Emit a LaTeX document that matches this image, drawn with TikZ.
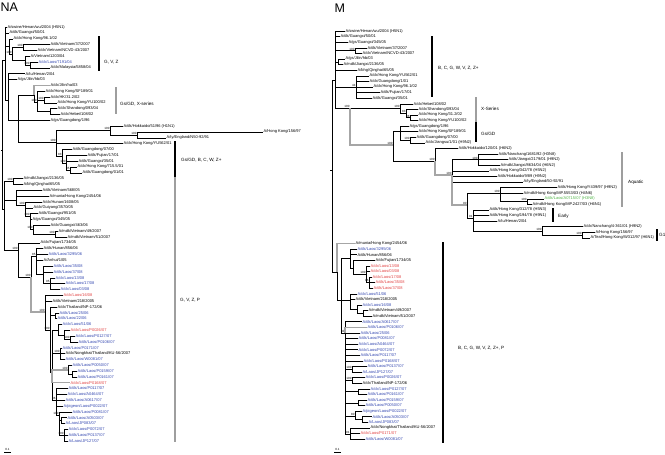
\documentclass[tikz,border=0pt]{standalone}
\usepackage{fontspec}
\setmainfont{Liberation Sans}

\definecolor{laoblue}{RGB}{50,70,175}
\definecolor{laored}{RGB}{225,65,65}
\definecolor{aqgreen}{RGB}{80,180,70}

\tikzset{
  lf/.style={anchor=west, inner sep=0.5pt, font=\fontsize{4}{4}\selectfont},
  lb/.style={lf, text=laoblue},
  lr/.style={lf, text=laored},
  lg/.style={lf, text=aqgreen},
  bs/.style={inner sep=0.3pt, font=\fontsize{3}{3}\selectfont},
  br/.style={line width=0.35pt},
  hl/.style={line width=1.2pt, black!35},
  barb/.style={line width=1.7pt},
  barg/.style={line width=1.7pt, black!38},
  grp/.style={anchor=west, inner sep=0pt, font=\fontsize{4.6}{4.6}\selectfont},
  ttl/.style={anchor=north west, inner sep=0pt, font=\fontsize{12.5}{12.5}\selectfont},
}

\begin{document}
\begin{tikzpicture}[x=1pt,y=-1pt]
\useasboundingbox (0,0) rectangle (665,455);

% ---------------- NA ----------------
\node[ttl] (tna) at (0.5,3) {NA};

% leaves
\node[lf] (a1) at (7,27.0) {A/swine/Henan/wu/2004 (H5N1)};
\node[lf] (a2) at (9,32.8) {A/dk/Guangxi/50/01};
\node[lf] (a3) at (13,38.7) {A/ck/Hong Kong/96.1/02};
\node[lf] (a4) at (50,44.5) {A/dk/Vietnam/37/2007};
\node[lf] (a5) at (37,50.3) {A/ck/Vietnam/NCVD-43/2007};
\node[lf] (a6) at (30,56.2) {A/Vietnam/1203/04};
\node[lb] (a7) at (38,62.0) {A/ck/Laos/7191/04};
\node[lf] (a8) at (50,67.8) {A/ck/Malaysia/5858/04};
\node[lf] (a9) at (25,73.6) {A/tu/Henan/2/04};
\node[lf] (a10) at (17,79.5) {A/gs/Jilin/hb/03};
\node[lf] (a11) at (50,85.3) {A/ck/Jilin/ha/03};
\node[lf] (a12) at (45,91.1) {A/ck/Hong Kong/SF189/01};
\node[lf] (a13) at (50,97.0) {A/ck/HK/31.2/02};
\node[lf] (a14) at (57,102.8) {A/ck/Hong Kong/YU100/02};
\node[lf] (a15) at (57,108.6) {A/ck/Shandong/093/04};
\node[lf] (a16) at (60,114.5) {A/ck/Hebei/108/02};
\node[lf] (a17) at (50,120.3) {A/gs/Guangdong/1/96};
\node[lf] (a18) at (123,126.1) {A/dk/Hokkaido/51/96 (H1N1)};
\node[lf] (a19) at (263,131.9) {A/Hong Kong/156/97};
\node[lf] (a20) at (166,137.8) {A/ty/England/N50-92/91};
\node[lf] (a21) at (123,143.6) {A/ck/Hong Kong/YU562/01};
\node[lf] (a22) at (72,149.4) {A/dk/Guangdong/07/00};
\node[lf] (a23) at (87,155.3) {A/dk/Fujian/17/01};
\node[lf] (a24) at (78,161.1) {A/dk/Guangxi/35/01};
\node[lf] (a25) at (77,166.9) {A/ck/Hong Kong/715.5/01};
\node[lf] (a26) at (82,172.8) {A/dk/Guangdong/01/01};
\node[lf] (a27) at (23,178.6) {A/mdk/Jiangxi/2136/05};
\node[lf] (a28) at (23,184.4) {A/bhg/Qinghai/65/05};
\node[lf] (a29) at (42,190.2) {A/dk/Vietnam/568/05};
\node[lf] (a30) at (49,196.1) {A/munia/Hong Kong/2454/06};
\node[lf] (a31) at (42,201.9) {A/ck/Hunan/1608/05};
\node[lf] (a32) at (33,207.7) {A/ck/Guiyang/3570/05};
\node[lf] (a33) at (38,213.6) {A/dk/Guangxi/951/05};
\node[lf] (a34) at (32,219.4) {A/gs/Guangxi/345/05};
\node[lf] (a35) at (50,225.2) {A/ck/Guangxi/463/06};
\node[lf] (a36) at (58,231.1) {A/mdk/Vietnam/49/2007};
\node[lf] (a37) at (67,236.9) {A/mdk/Vietnam/51/2007};
\node[lf] (a38) at (40,242.7) {A/ck/Fujian/1734/05};
\node[lf] (a39) at (43,248.5) {A/dk/Hunan/856/06};
\node[lb] (a40) at (48,254.4) {A/dk/Laos/3295/06};
\node[lf] (a41) at (43,260.2) {A/Anhui/1/05};
\node[lb] (a42) at (53,266.0) {A/dk/Laos/35/08};
\node[lb] (a43) at (53,271.9) {A/dk/Laos/37/08};
\node[lb] (a44) at (55,277.7) {A/ck/Laos/13/08};
\node[lb] (a45) at (65,283.5) {A/ck/Laos/17/08};
\node[lb] (a46) at (60,289.4) {A/ck/Laos/03/08};
\node[lr] (a47) at (63,295.2) {A/ck/Laos/16/08};
\node[lf] (a48) at (52,301.0) {A/dk/Vietnam/218/2005};
\node[lf] (a49) at (57,306.8) {A/ck/Thailand/NP-172/06};
\node[lb] (a50) at (59,312.7) {A/dk/Laos/25/06};
\node[lb] (a51) at (57,318.5) {A/dk/Laos/22/06};
\node[lb] (a52) at (62,324.3) {A/ck/Laos/51/06};
\node[lr] (a53) at (70,330.2) {A/ck/Laos/P0026/07};
\node[lb] (a54) at (75,336.0) {A/ck/Laos/P0127/07};
\node[lb] (a55) at (78,341.8) {A/dk/Laos/P0106/07};
\node[lb] (a56) at (62,347.7) {A/dk/Laos/P0171/07};
\node[lf] (a57) at (65,353.5) {A/ck/Nongkhai/Thailand/KU-56/2007};
\node[lb] (a58) at (65,359.3) {A/dk/Laos/W0081/07};
\node[lb] (a59) at (72,365.1) {A/dk/Laos/P0050/07};
\node[lb] (a60) at (77,371.0) {A/dk/Laos/P0159/07};
\node[lb] (a61) at (77,376.8) {A/dk/Laos/P0161/07};
\node[lr] (a62) at (70,382.6) {A/ck/Laos/P0168/07};
\node[lb] (a63) at (68,388.5) {A/dk/Laos/P0117/07};
\node[lb] (a64) at (67,394.3) {A/ck/Laos/A0464/07};
\node[lb] (a65) at (65,400.1) {A/dk/Laos/A0617/07};
\node[lb] (a66) at (63,406.0) {A/pigeon/Laos/P0022/07};
\node[lb] (a67) at (72,411.8) {A/dk/Laos/P0081/07};
\node[lb] (a68) at (67,417.6) {A/dk/Laos/A0503/07};
\node[lb] (a69) at (65,423.4) {A/Laos/JP083/07};
\node[lb] (a70) at (68,429.3) {A/ck/Laos/P0072/07};
\node[lb] (a71) at (68,435.1) {A/dk/Laos/P0137/07};
\node[lb] (a72) at (68,440.9) {A/Laos/JP127/07};

% internal nodes
\coordinate (r) at (2,150);
\coordinate (u0) at (5,60);
\coordinate (u0b) at (9,46);
\coordinate[label={[bs]above left:100}] (u1) at (12,54);
\coordinate[label={[bs]above left:100}] (u1a) at (23,47.4);
\coordinate (u1b) at (25,60);
\coordinate[label={[bs]above left:100}] (u1c) at (30,65);
\coordinate (u2) at (8,100);
\coordinate (u3) at (18,120);
\coordinate (u4) at (34,95);
\coordinate[label={[bs]above left:100}] (u4b) at (37,102);
\coordinate[label={[bs]above left:100}] (u4c) at (44,100);
\coordinate (u4d) at (50,111.5);
\coordinate[label={[bs]above left:100}] (n5) at (56,142);
\coordinate[label={[bs]above left:100}] (n6) at (110,130);
\coordinate[label={[bs]above left:100}] (n6b) at (137,134.8);
\coordinate[label={[bs]above left:83}] (n7) at (62,156);
\coordinate[label={[bs]above left:100}] (n8) at (66,163);
\coordinate[label={[bs]above left:95}] (n9) at (70,169.8);
\coordinate (d0) at (4,209);
\coordinate[label={[bs]above left:100}] (d1) at (13,181.5);
\coordinate (d2) at (16,200);
\coordinate[label={[bs]above left:100}] (d2a) at (25,205);
\coordinate[label={[bs]above left:100}] (d2b) at (30,216.5);
\coordinate[label={[bs]above left:100}] (d2c) at (33,229);
\coordinate[label={[bs]above left:100}] (d2d) at (55,234);
\coordinate[label={[bs]above left:100}] (d3) at (18,250);
\coordinate[label={[bs]above left:100}] (d4) at (31,277);
\coordinate[label={[bs]above left:85}] (d5) at (36,256);
\coordinate (d5a) at (43,274);
\coordinate[label={[bs]above left:95}] (d5b) at (50,283.5);
\coordinate[label={[bs]above left:100}] (d6) at (45,312);
\coordinate[label={[bs]above left:100}] (d7) at (50,330);
\coordinate (d7a) at (55,315.6);
\coordinate (d8) at (52,372);
\coordinate (d9) at (58,330);
\coordinate (d9a) at (64,335);
\coordinate[label={[bs]above left:100}] (d9b) at (70,339);
\coordinate[label={[bs]above left:100}] (d10) at (60,353.5);
\coordinate[label={[bs]above left:100}] (d11) at (68,370);
\coordinate (d11a) at (72,373.9);
\coordinate[label={[bs]above left:96}] (d12) at (56,400);
\coordinate[label={[bs]above left:100}] (d12a) at (59,415);
\coordinate (d12b) at (61,420);
\coordinate[label={[bs]above left:100}] (d12c) at (64,435);

% branches
\draw[br] (r) -- ++(-1.5,0);
\draw[br] (r) |- (u0) (r) |- (d0);
\draw[br] (u0) |- (a1) (u0) |- (a2) (u0) |- (u0b) (u0) |- (u2);
\draw[br] (u0b) |- (a3) (u0b) |- (u1);
\draw[br] (u1) |- (u1a) (u1) |- (u1b);
\draw[br] (u1a) |- (a4) (u1a) |- (a5);
\draw[br] (u1b) |- (a6) (u1b) |- (u1c);
\draw[br] (u1c) |- (a7) (u1c) |- (a8);
\draw[br] (u2) |- (a9) (u2) |- (a10) (u2) |- (u3);
\draw[br] (u3) |- (u4) (u3) |- (a17) (u3) |- (n5);
\draw[br] (u4) |- (u4b);
\draw[br] (u4b) |- (a12) (u4b) |- (u4c) (u4b) |- (u4d);
\draw[br] (u4c) |- (a13) (u4c) |- (a14);
\draw[br] (u4d) |- (a15) (u4d) |- (a16);
\draw[br] (n5) |- (n6) (n5) |- (a21) (n5) |- (n7);
\draw[br] (n6) |- (a18) (n6) |- (n6b);
\draw[br] (n6b) |- (a19) (n6b) |- (a20);
\draw[br] (n7) |- (a22) (n7) |- (n8);
\draw[br] (n8) |- (a23) (n8) |- (a24) (n8) |- (n9);
\draw[br] (n9) |- (a25) (n9) |- (a26);
\draw[br] (d0) |- (d1) (d0) |- (d2) (d0) |- (d3);
\draw[br] (d1) |- (a27) (d1) |- (a28);
\draw[br] (d2) |- (a29) (d2) |- (a30) (d2) |- (d2a);
\draw[br] (d2a) |- (a31) (d2a) |- (a32) (d2a) |- (d2b);
\draw[br] (d2b) |- (a33) (d2b) |- (a34) (d2b) |- (d2c);
\draw[br] (d2c) |- (a35) (d2c) |- (d2d);
\draw[br] (d2d) |- (a36) (d2d) |- (a37);
\draw[br] (d3) |- (a38) (d3) |- (d4);
\draw[br] (d4) |- (d5);
\draw[br] (d5) |- (a39) (d5) |- (a40) (d5) |- (a41) (d5) |- (d5a);
\draw[br] (d5a) |- (a42) (d5a) |- (a43) (d5a) |- (d5b);
\draw[br] (d5b) |- (a44) (d5b) |- (a45) (d5b) |- (a46);
\draw[br] (d6) |- (a47) (d6) |- (a48) (d6) |- (d7);
\draw[br] (d7) |- (a49) (d7) |- (d7a) (d7) |- (d8);
\draw[br] (d7a) |- (a50) (d7a) |- (a51);
\draw[br] (d8) |- (d9) (d8) |- (d10) (d8) |- (d12);
\draw[br] (d9) |- (a52) (d9) |- (d9a);
\draw[br] (d9a) |- (a53) (d9a) |- (d9b);
\draw[br] (d9b) |- (a54) (d9b) |- (a55);
\draw[br] (d10) |- (a56) (d10) |- (a57) (d10) |- (a58);
\draw[br] (d11) |- (a59) (d11) |- (d11a);
\draw[br] (d11a) |- (a60) (d11a) |- (a61);
\draw[br] (d12) |- (a63) (d12) |- (a64) (d12) |- (a65) (d12) |- (a66) (d12) |- (d12a);
\draw[br] (d12a) |- (a67) (d12a) |- (d12b) (d12a) |- (d12c);
\draw[br] (d12b) |- (a68) (d12b) |- (a69);
\draw[br] (d12c) |- (a70) (d12c) |- (a71) (d12c) |- (a72);
\draw[hl] (u4) |- (a11);
\draw[hl] (d4) |- (d6);
\draw[hl] (d8) |- (d11) (d8) |- (a62);

% lineage bars
\draw[barb] (99,36) -- (99,71);
\node[grp] (gvz) at (104,62) {G, V, Z};
\draw[barg] (116,87) -- (116,114);
\node[grp] (gsx) at (120,104) {Gs/GD, X-series};
\draw[barb] (175,141) -- (175,177);
\node[grp] (gsb) at (181,160) {Gs/GD, B, C, W, Z+};
\draw[barg] (175,177) -- (175,442);
\node[grp] (gvzp) at (180,300) {G, V, Z, P};

% scale
\draw[br] (4,452.5) -- (11,452.5);
\node[bs] (sna) at (7.5,449.5) {0.1};

% ---------------- M ----------------
\node[ttl] (tm) at (334.5,4) {M};

% leaves
\node[lf] (m1) at (345,31.0) {A/swine/Henan/wu/2004 (H5N1)};
\node[lf] (m2) at (340,36.6) {A/dk/Guangxi/50/01};
\node[lf] (m3) at (348,42.2) {A/gs/Guangxi/345/05};
\node[lf] (m4) at (367,47.8) {A/dk/Vietnam/37/2007};
\node[lf] (m5) at (362,53.4) {A/ck/Vietnam/NCVD-43/2007};
\node[lf] (m6) at (345,58.9) {A/gs/Jilin/hb/03};
\node[lf] (m7) at (343,64.5) {A/mdk/Jiangxi/2136/05};
\node[lf] (m8) at (357,70.1) {A/bhg/Qinghai/65/05};
\node[lf] (m9) at (369,75.7) {A/ck/Hong Kong/YU562/01};
\node[lf] (m10) at (369,81.3) {A/ck/Guangdong/1/01};
\node[lf] (m11) at (373,86.9) {A/ck/Hong Kong/96.1/02};
\node[lf] (m12) at (380,92.5) {A/dk/Fujian/17/01};
\node[lf] (m13) at (372,98.1) {A/dk/Guangxi/35/01};
\node[lf] (m14) at (413,103.7) {A/ck/Hebei/108/02};
\node[lf] (m15) at (418,109.2) {A/ck/Shandong/093/04};
\node[lf] (m16) at (418,114.8) {A/ck/Hong Kong/31.2/02};
\node[lf] (m17) at (418,120.4) {A/ck/Hong Kong/YU100/02};
\node[lf] (m18) at (409,126.0) {A/gs/Guangdong/1/96};
\node[lf] (m19) at (418,131.6) {A/ck/Hong Kong/SF189/01};
\node[lf] (m20) at (416,137.2) {A/dk/Guangdong/07/00};
\node[lf] (m21) at (425,142.8) {A/ck/Jiangsu/1/01 (H9N2)};
\node[lf] (m22) at (458,148.4) {A/dk/Hokkaido/120/01 (H6N2)};
\node[lf] (m23) at (498,154.0) {A/dk/Nanchang/1681/92 (H3N8)};
\node[lf] (m24) at (508,159.6) {A/dk/Jiangxi/2179/01 (H9N2)};
\node[lf] (m25) at (500,165.1) {A/mdk/Jiangxi/8634/04 (H6N2)};
\node[lf] (m26) at (489,170.7) {A/dk/Hong Kong/342/78 (H5N2)};
\node[lf] (m27) at (497,176.3) {A/dk/Hokkaido/9/89 (H9N2)};
\node[lf] (m28) at (523,181.9) {A/ty/England/50-92/91};
\node[lf] (m29) at (557,187.5) {A/dk/Hong Kong/Y439/97 (H9N2)};
\node[lf] (m30) at (523,193.1) {A/mdk/Hong Kong/MP.5553/03 (H4N6)};
\node[lg] (m31) at (544,198.7) {A/dk/Laos/A0715/07 (H3N8)};
\node[lf] (m32) at (532,204.3) {A/mdk/Hong Kong/MP.2427/03 (H6N1)};
\node[lf] (m33) at (489,209.9) {A/dk/Hong Kong/312/78 (H5N3)};
\node[lf] (m34) at (489,215.4) {A/dk/Hong Kong/194/78 (H9N1)};
\node[lf] (m35) at (497,221.0) {A/tu/Henan/2/04};
\node[lf] (m36) at (583,226.6) {A/ck/Nanchang/4-361/01 (H9N2)};
\node[lf] (m37) at (595,232.2) {A/Hong Kong/156/97};
\node[lf] (m38) at (590,237.8) {A/Teal/Hong Kong/W312/97 (H6N1)};
\node[lf] (m39) at (355,243.4) {A/munia/Hong Kong/2454/06};
\node[lb] (m40) at (357,249.0) {A/dk/Laos/3295/06};
\node[lf] (m41) at (357,254.6) {A/dk/Hunan/856/06};
\node[lf] (m42) at (375,260.2) {A/ck/Fujian/1734/05};
\node[lr] (m43) at (370,265.7) {A/ck/Laos/13/08};
\node[lr] (m44) at (370,271.3) {A/ck/Laos/03/08};
\node[lr] (m45) at (372,276.9) {A/ck/Laos/17/08};
\node[lr] (m46) at (375,282.5) {A/dk/Laos/35/08};
\node[lr] (m47) at (373,288.1) {A/dk/Laos/37/08};
\node[lb] (m48) at (357,293.7) {A/ck/Laos/51/06};
\node[lf] (m49) at (355,299.3) {A/dk/Vietnam/218/2005};
\node[lb] (m50) at (362,304.9) {A/ck/Laos/16/08};
\node[lf] (m51) at (368,310.4) {A/mdk/Vietnam/49/2007};
\node[lf] (m52) at (372,316.0) {A/mdk/Vietnam/51/2007};
\node[lb] (m53) at (362,321.6) {A/dk/Laos/A0617/07};
\node[lb] (m54) at (367,327.2) {A/dk/Laos/P0106/07};
\node[lb] (m55) at (360,332.8) {A/dk/Laos/25/06};
\node[lb] (m56) at (358,338.4) {A/dk/Laos/P0081/07};
\node[lb] (m57) at (358,344.0) {A/ck/Laos/A0464/07};
\node[lb] (m58) at (358,349.6) {A/ck/Laos/P0072/07};
\node[lb] (m59) at (360,355.2) {A/dk/Laos/P0117/07};
\node[lb] (m60) at (363,360.7) {A/ck/Laos/P0168/07};
\node[lb] (m61) at (367,366.3) {A/dk/Laos/P0137/07};
\node[lb] (m62) at (362,371.9) {A/Laos/JP127/07};
\node[lb] (m63) at (365,377.5) {A/ck/Laos/P0026/07};
\node[lf] (m64) at (362,383.1) {A/ck/Thailand/NP-172/06};
\node[lb] (m65) at (370,388.7) {A/ck/Laos/P0127/07};
\node[lb] (m66) at (367,394.3) {A/dk/Laos/P0161/07};
\node[lb] (m67) at (367,399.9) {A/dk/Laos/P0159/07};
\node[lb] (m68) at (365,405.5) {A/dk/Laos/P0050/07};
\node[lb] (m69) at (362,411.0) {A/pigeon/Laos/P0022/07};
\node[lb] (m70) at (372,416.6) {A/dk/Laos/A0503/07};
\node[lb] (m71) at (368,422.2) {A/Laos/JP083/07};
\node[lf] (m72) at (370,427.8) {A/ck/Nongkhai/Thailand/KU-56/2007};
\node[lr] (m73) at (360,433.4) {A/ck/Laos/P0171/07};
\node[lb] (m74) at (365,439.0) {A/dk/Laos/W0081/07};

% internal nodes
\coordinate (mr) at (332,170);
\coordinate (mu) at (335,80);
\coordinate[label={[bs]above left:100}] (ma) at (355,50.6);
\coordinate (mb) at (338,61.7);
\coordinate[label={[bs]above left:44}] (mc) at (356,86.9);
\coordinate[label={[bs]above left:100}] (mg) at (350,108);
\coordinate[label={[bs]above left:100}] (mx) at (400,108);
\coordinate[label={[bs]above left:83}] (mx2) at (406,113);
\coordinate[label={[bs]above left:88}] (mx3) at (410,117.6);
\coordinate[label={[bs]above left:100}] (maq) at (393,145);
\coordinate (mgd) at (400,131);
\coordinate[label={[bs]above left:100}] (mgd3) at (410,140);
\coordinate[label={[bs]above left:100}] (maq2) at (435,161);
\coordinate[label={[bs]above left:100}] (maq3) at (452,175);
\coordinate[label={[bs]above left:100}] (maq4) at (478,159.6);
\coordinate[label={[bs]above left:90}] (maq6) at (467,205);
\coordinate[label={[bs]above left:100}] (maq5) at (500,193);
\coordinate[label={[bs]above left:100}] (maq7) at (527,201.5);
\coordinate[label={[bs]above left:91}] (meg) at (473,218);
\coordinate[label={[bs]above left:100}] (mg1) at (542,231);
\coordinate[label={[bs]above left:100}] (mg1b) at (582,235);
\coordinate (md) at (337,272);
\coordinate (md1) at (341,300);
\coordinate (md2) at (350,258);
\coordinate (md2a) at (353,268);
\coordinate[label={[bs]above left:100}] (md2b) at (366,274);
\coordinate[label={[bs]above left:96}] (md2c) at (369,282.5);
\coordinate (md3) at (350,300);
\coordinate (md3a) at (357,309);
\coordinate (md3b) at (363,313.2);
\coordinate[label={[bs]above left:40}] (md4) at (345,333);
\coordinate[label={[bs]above left:100}] (md5) at (352,369);
\coordinate[label={[bs]above left:100}] (md6) at (352,380.3);
\coordinate (md7) at (358,391.5);
\coordinate (md8) at (358,402.7);
\coordinate[label={[bs]above left:80}] (md9) at (355,416);
\coordinate (md9a) at (362,419.4);
\coordinate[label={[bs]above left:91}] (md10) at (350,434);

% branches
\draw[br] (mr) -- ++(-2,0);
\draw[br] (mr) |- (mu) (mr) |- (md);
\draw[br] (mu) |- (m1) (mu) |- (m2) (mu) |- (m3) (mu) |- (ma) (mu) |- (mb) (mu) |- (m8) (mu) |- (mc) (mu) |- (mg);
\draw[br] (ma) |- (m4) (ma) |- (m5);
\draw[br] (mb) |- (m6) (mb) |- (m7);
\draw[br] (mc) |- (m9) (mc) |- (m10) (mc) |- (m11) (mc) |- (m12) (mc) |- (m13);
\draw[br] (mg) |- (mx);
\draw[br] (mx) |- (m14) (mx) |- (mx2);
\draw[br] (mx2) |- (m15) (mx2) |- (mx3);
\draw[br] (mx3) |- (m16) (mx3) |- (m17);
\draw[br] (maq) |- (mgd) (maq) |- (maq2);
\draw[br] (mgd) |- (m18) (mgd) |- (m19) (mgd) |- (mgd3);
\draw[br] (mgd3) |- (m20) (mgd3) |- (m21);
\draw[br] (maq2) |- (m22);
\draw[br] (maq3) |- (maq4) (maq3) |- (m26) (maq3) |- (m27) (maq3) |- (m28);
\draw[br] (maq4) |- (m23) (maq4) |- (m24) (maq4) |- (m25);
\draw[br] (maq6) |- (maq5) (maq6) |- (meg);
\draw[br] (maq5) |- (m29) (maq5) |- (m30) (maq5) |- (maq7);
\draw[br] (maq7) |- (m31) (maq7) |- (m32);
\draw[br] (meg) |- (m33) (meg) |- (m34) (meg) |- (m35) (meg) |- (mg1);
\draw[br] (mg1) |- (m36) (mg1) |- (mg1b);
\draw[br] (mg1b) |- (m37) (mg1b) |- (m38);
\draw[br] (md) |- (md1);
\draw[br] (md1) |- (md2) (md1) |- (md3) (md1) |- (md4);
\draw[br] (md2) |- (m40) (md2) |- (m41) (md2) |- (md2a);
\draw[br] (md2a) |- (m42) (md2a) |- (md2b);
\draw[br] (md2b) |- (m43) (md2b) |- (m44) (md2b) |- (md2c);
\draw[br] (md2c) |- (m45) (md2c) |- (m46) (md2c) |- (m47);
\draw[br] (md3) |- (m48) (md3) |- (m49) (md3) |- (md3a);
\draw[br] (md3a) |- (m50) (md3a) |- (md3b);
\draw[br] (md3b) |- (m51) (md3b) |- (m52);
\draw[br] (md4) |- (m53) (md4) |- (m55) (md4) |- (m56) (md4) |- (m57) (md4) |- (m58) (md4) |- (m59) (md4) |- (m60);
\draw[br] (md4) |- (md5) (md4) |- (md6) (md4) |- (md7) (md4) |- (md8) (md4) |- (md9) (md4) |- (md10);
\draw[br] (md5) |- (m61) (md5) |- (m62);
\draw[br] (md6) |- (m63) (md6) |- (m64);
\draw[br] (md7) |- (m65) (md7) |- (m66);
\draw[br] (md8) |- (m67) (md8) |- (m68);
\draw[br] (md9) |- (m69) (md9) |- (md9a);
\draw[br] (md9a) |- (m70) (md9a) |- (m71);
\draw[br] (md10) |- (m72) (md10) |- (m73) (md10) |- (m74);
\draw[hl] (mg) |- (maq);
\draw[hl] (maq2) |- (maq3) (maq3) |- (maq6);
\draw[hl] (md) |- (m39);
\draw[hl] (md4) |- (m54);

% lineage bars
\draw[barb] (432,36) -- (432,97);
\node[grp] (mbc) at (438,68) {B, C, G, W, V, Z, Z+};
\draw[barg] (476,97) -- (476,122);
\node[grp] (mxs) at (481,109) {X-Series};
\draw[barb] (476,122) -- (476,142);
\node[grp] (mgs) at (481,134) {Gs/GD};
\draw[barg] (622,152) -- (622,207);
\node[grp] (maqt) at (628,182) {Aquatic};
\draw[barb] (553,208) -- (553,222);
\node[grp] (mear) at (558,216) {Early};
\draw[barb] (657,229) -- (657,241);
\node[grp] (mgone) at (659,235) {G1};
\draw[barb] (443,242) -- (443,443);
\node[grp] (mbcp) at (458,348) {B, C, G, W, V, Z, Z+, P};

% scale
\draw[br] (334,452.5) -- (341,452.5);
\node[bs] (sm) at (337.5,449.5) {0.1};
\end{tikzpicture}
\end{document}
